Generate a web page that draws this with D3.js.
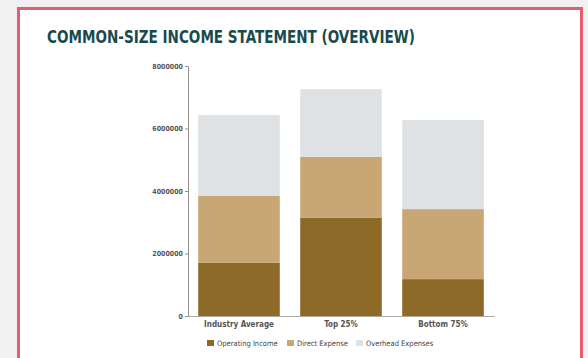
<!DOCTYPE html>
<html>
<head>
<meta charset="utf-8">
<script src="https://cdn.jsdelivr.net/npm/d3@7"></script>
<style>
  body { margin: 0; background: #f1f1f1; overflow: hidden; }
  svg { display: block; }
</style>
</head>
<body>
<div id="chart"></div>
<script>
// chart data
var categories = ["Industry Average", "Top 25%", "Bottom 75%"];
var seriesNames = ["Operating Income", "Direct Expense", "Overhead Expenses"];
var operatingIncome = [1700000, 3140000, 1180000];
var directExpense = [2140000, 1950000, 2240000];
var overheadExpenses = [2590000, 2170000, 2850000];
var yTicks = [0, 2000000, 4000000, 6000000, 8000000];

var colors = ["#8e6a28", "#c8a775", "#dfe2e4"];

var w = 588;
var h = 358;

var svg = d3.select("#chart")
    .append("svg")
    .attr("width", w)
    .attr("height", h);

// card with red border
svg.append("rect")
    .attr("x", 18.5)
    .attr("y", 8.5)
    .attr("width", 563)
    .attr("height", 360)
    .attr("fill", "#ffffff")
    .attr("stroke", "#e65d6b")
    .attr("stroke-width", 3);

svg.append("text")
    .attr("x", 47)
    .attr("y", 43)
    .attr("font-family", "'DejaVu Sans Condensed', 'DejaVu Sans', sans-serif")
    .attr("font-stretch", "condensed")
    .attr("font-weight", "bold")
    .attr("font-size", "17px")
    .attr("fill", "#1a4a4c")
    .attr("textLength", 368)
    .attr("lengthAdjust", "spacingAndGlyphs")
    .text("COMMON-SIZE INCOME STATEMENT (OVERVIEW)");

// build stacked rows
var rows = categories.map(function (c, i) {
    return {
        cat: c,
        "Operating Income": operatingIncome[i],
        "Direct Expense": directExpense[i],
        "Overhead Expenses": overheadExpenses[i]
    };
});
var stacked = d3.stack().keys(seriesNames)(rows);

var xScale = d3.scaleBand()
    .domain(categories)
    .range([188, 494])
    .paddingInner(0.2)
    .paddingOuter(0.1);

var yScale = d3.scaleLinear()
    .domain([0, 8000000])
    .range([316, 66]);

var layers = svg.selectAll("g.layer")
    .data(stacked)
    .enter()
    .append("g")
    .attr("class", "layer")
    .attr("fill", function (d, i) { return colors[i]; });

layers.selectAll("rect")
    .data(function (d) { return d; })
    .enter()
    .append("rect")
    .attr("x", function (d) { return xScale(d.data.cat); })
    .attr("y", function (d) { return yScale(d[1]); })
    .attr("height", function (d) { return yScale(d[0]) - yScale(d[1]); })
    .attr("width", xScale.bandwidth());

// Y axis
var yAxis = d3.axisLeft(yScale)
    .tickValues(yTicks)
    .tickFormat(d3.format("d"))
    .tickSize(3)
    .tickPadding(2);

var yg = svg.append("g")
    .attr("transform", "translate(188,0)")
    .call(yAxis);
yg.select(".domain").attr("stroke", "#9a8f86");
yg.selectAll(".tick line").attr("stroke", "#9a8f86");
yg.selectAll(".tick text")
    .attr("font-family", "'DejaVu Sans Condensed', sans-serif")
    .attr("font-weight", "bold")
    .attr("font-size", "7px")
    .attr("fill", "#555");

// X axis
var xAxis = d3.axisBottom(xScale).tickSize(0).tickPadding(5);
var xg = svg.append("g")
    .attr("transform", "translate(0,316)")
    .call(xAxis);
xg.select(".domain").attr("stroke", "#b0aaa4");
xg.selectAll(".tick text")
    .attr("font-family", "'DejaVu Sans Condensed', sans-serif")
    .attr("font-weight", "bold")
    .attr("font-size", "8px")
    .attr("fill", "#555");

// legend
var legendX = [207, 287, 356];
var legend = svg.selectAll("g.legend")
    .data(seriesNames)
    .enter()
    .append("g")
    .attr("class", "legend")
    .attr("transform", function (d, i) { return "translate(" + legendX[i] + ",343)"; });

legend.append("rect")
    .attr("x", 0)
    .attr("y", -3)
    .attr("width", 7)
    .attr("height", 6)
    .attr("fill", function (d, i) { return colors[i]; });

legend.append("text")
    .attr("x", 10)
    .attr("y", 3)
    .attr("font-family", "'DejaVu Sans Condensed', sans-serif")
    .attr("font-size", "7.5px")
    .attr("fill", "#444")
    .text(function (d) { return d; });
</script>
</body>
</html>
